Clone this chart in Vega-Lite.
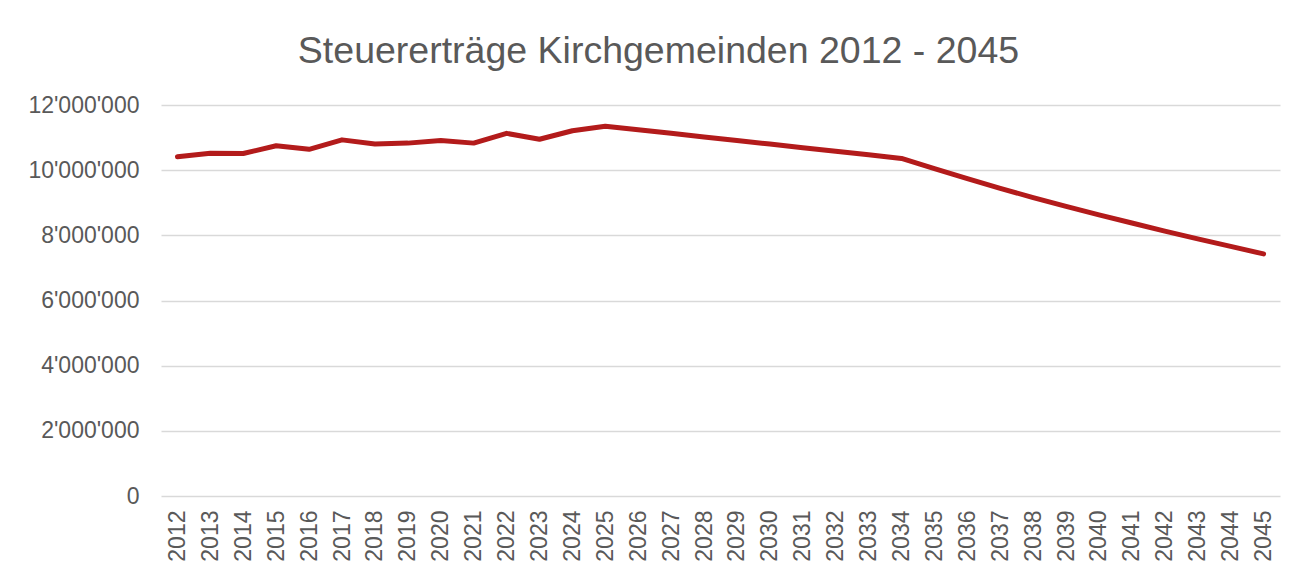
{
  "$schema": "https://vega.github.io/schema/vega-lite/v6.json",
  "width": 1119,
  "height": 391,
  "autosize": {"type": "none"},
  "padding": {"left": 161, "top": 105, "right": 34, "bottom": 78},
  "background": "white",
  "title": {
    "text": "Steuererträge Kirchgemeinden 2012 - 2045",
    "fontSize": 37.5,
    "font": "Liberation Sans",
    "fontWeight": "normal",
    "color": "#595959",
    "anchor": "middle",
    "dx": -62,
    "offset": 24
  },
  "config": {
    "view": {"stroke": null},
    "font": "Liberation Sans"
  },
  "data": {
    "values": [
      {"Jahr": "2012", "Ertrag": 10410000},
      {"Jahr": "2013", "Ertrag": 10520000},
      {"Jahr": "2014", "Ertrag": 10510000},
      {"Jahr": "2015", "Ertrag": 10750000},
      {"Jahr": "2016", "Ertrag": 10640000},
      {"Jahr": "2017", "Ertrag": 10930000},
      {"Jahr": "2018", "Ertrag": 10800000},
      {"Jahr": "2019", "Ertrag": 10830000},
      {"Jahr": "2020", "Ertrag": 10910000},
      {"Jahr": "2021", "Ertrag": 10830000},
      {"Jahr": "2022", "Ertrag": 11130000},
      {"Jahr": "2023", "Ertrag": 10950000},
      {"Jahr": "2024", "Ertrag": 11210000},
      {"Jahr": "2025", "Ertrag": 11350000},
      {"Jahr": "2026", "Ertrag": 11240000},
      {"Jahr": "2027", "Ertrag": 11130000},
      {"Jahr": "2028", "Ertrag": 11020000},
      {"Jahr": "2029", "Ertrag": 10910000},
      {"Jahr": "2030", "Ertrag": 10800000},
      {"Jahr": "2031", "Ertrag": 10690000},
      {"Jahr": "2032", "Ertrag": 10580000},
      {"Jahr": "2033", "Ertrag": 10470000},
      {"Jahr": "2034", "Ertrag": 10360000},
      {"Jahr": "2035", "Ertrag": 10050000},
      {"Jahr": "2036", "Ertrag": 9740000},
      {"Jahr": "2037", "Ertrag": 9440000},
      {"Jahr": "2038", "Ertrag": 9160000},
      {"Jahr": "2039", "Ertrag": 8890000},
      {"Jahr": "2040", "Ertrag": 8630000},
      {"Jahr": "2041", "Ertrag": 8380000},
      {"Jahr": "2042", "Ertrag": 8130000},
      {"Jahr": "2043", "Ertrag": 7890000},
      {"Jahr": "2044", "Ertrag": 7660000},
      {"Jahr": "2045", "Ertrag": 7430000}
    ]
  },
  "mark": {"type": "line", "color": "#B31B1B", "strokeWidth": 5, "strokeCap": "round", "strokeJoin": "round"},
  "encoding": {
    "x": {
      "field": "Jahr",
      "type": "ordinal",
      "scale": {"type": "point", "padding": 0.5},
      "axis": {
        "title": null,
        "labelAngle": -90,
        "labelFontSize": 23,
        "labelColor": "#595959",
        "labelPadding": 14,
        "ticks": false,
        "domain": false,
        "grid": false
      }
    },
    "y": {
      "field": "Ertrag",
      "type": "quantitative",
      "scale": {"domain": [0, 12000000], "nice": false},
      "axis": {
        "title": null,
        "values": [0, 2000000, 4000000, 6000000, 8000000, 10000000, 12000000],
        "labelExpr": "replace(replace(format(datum.value, ','), ',', \"'\"), ',', \"'\")",
        "labelFontSize": 23,
        "labelColor": "#595959",
        "labelPadding": 22,
        "ticks": false,
        "domain": false,
        "grid": true,
        "gridColor": "#D9D9D9",
        "gridWidth": 1.5
      }
    }
  }
}
